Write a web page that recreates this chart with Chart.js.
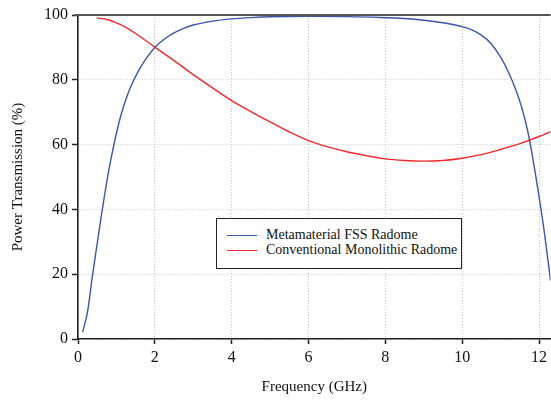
<!DOCTYPE html>
<html>
<head>
<meta charset="utf-8">
<script src="https://cdn.jsdelivr.net/npm/chart.js@4/dist/chart.umd.min.js"></script>
<style>
  html, body { margin: 0; padding: 0; background: #fff; }
  #wrap { position: relative; width: 551px; height: 400px; }
  #legend {
    position: absolute; left: 216px; top: 218px; width: 244px; height: 49px;
    border: 1.5px solid #222; background: #fff;
    font-family: "Liberation Serif", "Times New Roman", serif; font-size: 14px; color: #111;
  }
  .legend-item { position: absolute; left: 10px; height: 16px; line-height: 16px; white-space: nowrap; }
  .legend-item span.swatch { display: inline-block; width: 30px; height: 0; border-top: 1.3px solid; vertical-align: middle; margin-right: 9px; }
</style>
</head>
<body>
<div id="wrap">
  <canvas id="chart" width="551" height="400"></canvas>
  <div id="legend"></div>
</div>
<script>
// Frequency (GHz) / transmission (%)
const fssFreq = [0.12, 0.25, 0.37, 0.5, 0.6, 0.7, 0.8, 0.9, 1.0, 1.1, 1.2, 1.3, 1.4, 1.6, 1.8, 2.0, 2.25, 2.5, 2.75, 3.0, 3.5, 4.0, 4.5, 5.0, 6.0, 7.0, 7.85, 8.5, 9.0, 9.5, 10.0, 10.25, 10.5, 10.75, 11.0, 11.2, 11.4, 11.55, 11.7, 11.85, 12.0, 12.15, 12.3];
const fssValues = [2.1, 8.5, 19, 29.5, 37.5, 45, 52, 58, 63.5, 68.3, 72.3, 75.7, 78.6, 83.3, 87, 90, 92.6, 94.5, 95.9, 96.9, 98.1, 98.8, 99.2, 99.45, 99.6, 99.5, 99.25, 98.9, 98.4, 97.6, 96.4, 95.4, 93.8, 91.2, 87, 82.5, 76.8, 71.5, 64.5, 55, 44, 32, 18];

const monoFreq = [0.49, 0.75, 1.0, 1.25, 1.5, 2.0, 2.5, 3.0, 3.5, 4.0, 4.5, 5.0, 5.5, 6.0, 6.5, 7.0, 7.5, 8.0, 8.5, 9.0, 9.5, 10.0, 10.5, 11.0, 11.5, 12.0, 12.3];
const monoValues = [99.1, 98.6, 97.6, 96.2, 94.3, 90.1, 85.9, 81.6, 77.5, 73.6, 70.2, 67.0, 63.9, 61.2, 59.3, 57.8, 56.6, 55.6, 55.1, 54.9, 55.1, 55.8, 56.9, 58.5, 60.3, 62.5, 64.0];

const seriesNames = ['Metamaterial FSS Radome', 'Conventional Monolithic Radome'];
const seriesColors = ['#3b55a8', '#ee2a2e'];

const xTicks = [0, 2, 4, 6, 8, 10, 12];
const yTicks = [0, 20, 40, 60, 80, 100];

const serif = '"Liberation Serif", "Times New Roman", serif';

function toPoints(xs, ys) {
  return xs.map((x, i) => ({ x: x, y: ys[i] }));
}

// top edge of the frame
const framePlugin = {
  id: 'frame',
  afterDraw(chart) {
    const { ctx, chartArea } = chart;
    ctx.save();
    ctx.strokeStyle = '#555';
    ctx.lineWidth = 2;
    ctx.beginPath();
    ctx.moveTo(chartArea.left - 4, chartArea.top);
    ctx.lineTo(chartArea.right, chartArea.top);
    ctx.stroke();
    ctx.restore();
  }
};

const gridStyle = {
  color: '#c8c8c8',
  lineWidth: 1,
  tickColor: '#222',
  tickWidth: 1.5,
  tickBorderDash: []
};

new Chart(document.getElementById('chart'), {
  type: 'line',
  data: {
    datasets: [
      {
        label: seriesNames[0],
        data: toPoints(fssFreq, fssValues),
        borderColor: seriesColors[0],
        borderWidth: 1.4,
        pointRadius: 0,
        cubicInterpolationMode: 'monotone'
      },
      {
        label: seriesNames[1],
        data: toPoints(monoFreq, monoValues),
        borderColor: seriesColors[1],
        borderWidth: 1.4,
        pointRadius: 0,
        cubicInterpolationMode: 'monotone'
      }
    ]
  },
  options: {
    responsive: false,
    animation: false,
    devicePixelRatio: 1,
    layout: { padding: { top: 15, right: 0, left: 0, bottom: 0 } },
    plugins: { legend: { display: false }, tooltip: { enabled: false } },
    scales: {
      x: {
        type: 'linear',
        min: 0,
        max: 12.3,
        afterBuildTicks: (scale) => { scale.ticks = xTicks.map(v => ({ value: v })); },
        afterFit: (scale) => { scale.height = 61; },
        ticks: { font: { family: serif, size: 16 }, color: '#111', padding: 4, maxRotation: 0 },
        grid: Object.assign({ tickLength: 5 }, gridStyle),
        border: { color: '#222', width: 1.6, dash: [1, 2] },
        title: { display: true, text: 'Frequency (GHz)', font: { family: serif, size: 15 }, color: '#111', padding: { top: 6, bottom: 4 } }
      },
      y: {
        min: 0,
        max: 100,
        afterBuildTicks: (scale) => { scale.ticks = yTicks.map(v => ({ value: v })); },
        afterFit: (scale) => { scale.width = 78; },
        ticks: { font: { family: serif, size: 16 }, color: '#111', padding: 4 },
        grid: Object.assign({ tickLength: 6 }, gridStyle),
        border: { color: '#222', width: 1.6, dash: [1, 2] },
        title: { display: true, text: 'Power Transmission (%)', font: { family: serif, size: 15 }, color: '#111', padding: { top: 9, bottom: 9 } }
      }
    }
  },
  plugins: [framePlugin]
});

// legend box inside the plot
const legendBox = document.getElementById('legend');
seriesNames.forEach((name, i) => {
  const item = document.createElement('div');
  item.className = 'legend-item';
  item.style.top = (8 + i * 15) + 'px';
  const swatch = document.createElement('span');
  swatch.className = 'swatch';
  swatch.style.borderTopColor = seriesColors[i];
  const text = document.createElement('span');
  text.textContent = name;
  item.appendChild(swatch);
  item.appendChild(text);
  legendBox.appendChild(item);
});
</script>
</body>
</html>
